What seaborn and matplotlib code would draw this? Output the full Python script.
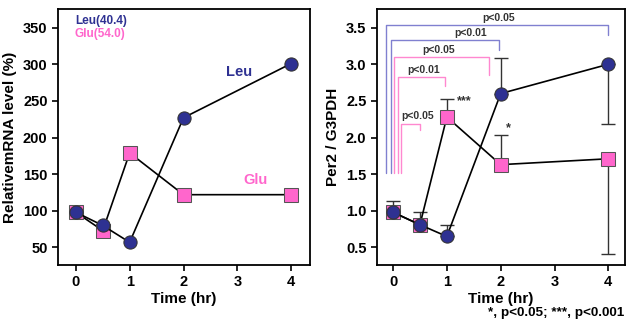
import numpy as np
import pandas as pd
import seaborn as sns
import matplotlib.pyplot as plt

# data
time = [0, 0.5, 1, 2, 4]
leu_mrna = [98, 80, 57, 227, 301]
glu_mrna = [98, 73, 179, 122, 122]

leu_per2 = [0.98, 0.81, 0.65, 2.60, 3.00]
leu_err_up = [0.16, 0.17, 0.16, 0.48, 0.0]
leu_err_down = [0.0, 0.0, 0.0, 0.0, 0.81]
glu_per2 = [0.98, 0.81, 2.28, 1.63, 1.71]
glu_err_up = [0.0, 0.0, 0.24, 0.40, 0.0]
glu_err_down = [0.0, 0.0, 0.0, 0.0, 1.30]

# significance brackets: (x_left, x_right, y_top, y_drop, label, label_x, colour)
brackets = [
    (-0.125, 4.0, 3.53, 3.40, "p<0.05", 1.96, "blue"),
    (-0.04, 1.97, 3.33, 3.20, "p<0.01", 1.45, "blue"),
    (0.02, 1.79, 3.10, 2.85, "p<0.05", 0.84, "pink"),
    (0.09, 0.97, 2.82, 2.70, "p<0.01", 0.56, "pink"),
    (0.14, 0.50, 2.19, 2.10, "p<0.05", 0.45, "pink"),
]
bracket_base = 1.52

sns.set_style("ticks")
plt.rcParams['font.family'] = ['Liberation Sans', 'DejaVu Sans']
plt.rcParams['font.weight'] = 'bold'
plt.rcParams['text.color'] = 'black'
plt.rcParams['axes.labelcolor'] = 'black'

LEU = '#2e3192'
GLU = '#ff66cc'
cols = {"blue": '#8080d0', "pink": '#ff88d0'}

df = pd.DataFrame({"time": time, "leu": leu_mrna, "glu": glu_mrna,
                   "leu2": leu_per2, "glu2": glu_per2})

fig = plt.figure(figsize=(6.26, 3.28), dpi=100)
ax1 = fig.add_axes([0.0927, 0.192, 0.4026, 0.7796])
ax2 = fig.add_axes([0.602, 0.192, 0.3965, 0.7796])

# Left panel
sns.lineplot(data=df, x="time", y="glu", ax=ax1, color='black', lw=1.2,
             marker='s', markersize=9.5, markerfacecolor=GLU, markeredgecolor='#555555', zorder=3)
sns.lineplot(data=df, x="time", y="leu", ax=ax1, color='black', lw=1.2,
             marker='o', markersize=9.5, markerfacecolor=LEU, markeredgecolor='#333333', zorder=4)
ax1.set_xlim(-0.33, 4.35)
ax1.set_ylim(26, 375)
ax1.set_yticks([50, 100, 150, 200, 250, 300, 350])
ax1.set_xticks([0, 1, 2, 3, 4])
ax1.set_xlabel("Time (hr)", fontsize=11, fontweight='bold', labelpad=2)
ax1.set_ylabel("RelativemRNA level (%)", fontsize=11, fontweight='bold')
ax1.text(0.067, 0.955, "Leu(40.4)", transform=ax1.transAxes, color=LEU, fontsize=8.5,
         fontweight='bold', va='center')
ax1.text(0.067, 0.903, "Glu(54.0)", transform=ax1.transAxes, color=GLU, fontsize=8.5,
         fontweight='bold', va='center')
ax1.text(3.04, 289, "Leu", color=LEU, fontsize=10.5, fontweight='bold', ha='center', va='center')
ax1.text(3.33, 142, "Glu", color=GLU, fontsize=10.5, fontweight='bold', ha='center', va='center')

# Right panel
ax2.errorbar(time, glu_per2, yerr=[glu_err_down, glu_err_up], fmt='none',
             ecolor='#333333', elinewidth=1, capsize=5, zorder=2)
ax2.errorbar(time, leu_per2, yerr=[leu_err_down, leu_err_up], fmt='none',
             ecolor='#333333', elinewidth=1, capsize=5, zorder=2)
sns.lineplot(data=df, x="time", y="glu2", ax=ax2, color='black', lw=1.2,
             marker='s', markersize=9.5, markerfacecolor=GLU, markeredgecolor='#555555', zorder=3)
sns.lineplot(data=df, x="time", y="leu2", ax=ax2, color='black', lw=1.2,
             marker='o', markersize=9.5, markerfacecolor=LEU, markeredgecolor='#333333', zorder=4)

for xl, xr, yt, yd, lab, lx, c in brackets:
    ax2.plot([xl, xl, xr, xr], [bracket_base, yt, yt, yd], color=cols[c], lw=1, zorder=1)
    ax2.text(lx, yt + 0.1, lab, fontsize=7.5, fontweight='bold',
             ha='center', va='center', color='#333333')

ax2.text(1.33, 2.49, "***", fontsize=9, fontweight='bold', ha='center', va='center', color='#333333')
ax2.text(2.15, 2.13, "*", fontsize=9, fontweight='bold', ha='center', va='center', color='#333333')

ax2.set_xlim(-0.30, 4.31)
ax2.set_ylim(0.26, 3.75)
ax2.set_yticks([0.5, 1.0, 1.5, 2.0, 2.5, 3.0, 3.5])
ax2.set_yticklabels(["0.5", "1.0", "1.5", "2.0", "2.5", "3.0", "3.5"])
ax2.set_xticks([0, 1, 2, 3, 4])
ax2.set_xlabel("Time (hr)", fontsize=11, fontweight='bold', labelpad=2)
ax2.set_ylabel("Per2 / G3PDH", fontsize=11, fontweight='bold')

fig.text(0.998, 0.046, "*, p<0.05; ***, p<0.001", ha='right', va='center', fontsize=9.7,
         fontweight='bold')

for ax in (ax1, ax2):
    for s in ax.spines.values():
        s.set_visible(True)
        s.set_color('black')
        s.set_linewidth(1.3)
    ax.tick_params(direction='out', length=4, width=1.2, labelsize=10.5, colors='black')
    for t in ax.get_xticklabels() + ax.get_yticklabels():
        t.set_fontweight('bold')
    ax.grid(False)

fig.savefig("out.png", dpi=100)
